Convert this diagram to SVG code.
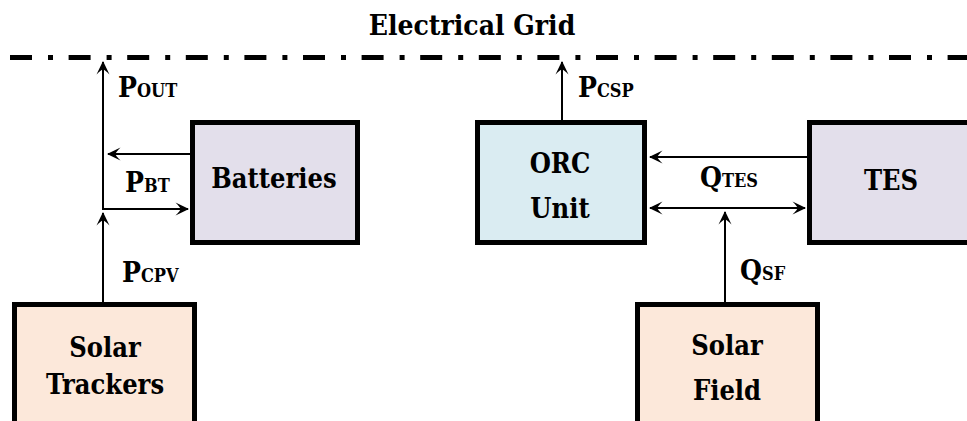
<svg xmlns="http://www.w3.org/2000/svg" width="967" height="421" viewBox="0 0 967 421">
<style>
.box{stroke:#000;stroke-width:5}
.lav{fill:#e3dfeb}
.blue{fill:#daecf2}
.peach{fill:#fce8da}
text{font-family:"DejaVu Serif Condensed","DejaVu Serif",serif;font-stretch:condensed;font-weight:700}
.lbl{font-size:27px;text-anchor:middle}
.sym{font-size:28px}
.sub{font-size:18px}
.conn line{stroke:#000;stroke-width:2;fill:none}
</style>
<defs>
<marker id="ah" viewBox="-14 -7 16 14" refX="0" refY="0" markerWidth="16" markerHeight="14" markerUnits="userSpaceOnUse" orient="auto-start-reverse">
<path d="M1,0 L-12.5,-6.5 Q-7.5,-1.5 -7.5,0 Q-7.5,1.5 -12.5,6.5 Z" fill="#000"/>
</marker>
</defs>
<rect width="967" height="421" fill="#fff"/>
<g id="grid">
<text x="472" y="35" style="font-size:28px" text-anchor="middle">Electrical Grid</text>
<line x1="10" y1="57.5" x2="967" y2="57.5" stroke="#000" stroke-width="5" stroke-dasharray="22 16 5 15.6"/>
</g>
<g id="batteries">
<rect class="box lav" x="192.5" y="122.5" width="165" height="120"/>
<text class="lbl" x="274" y="188">Batteries</text>
</g>
<g id="orc">
<rect class="box blue" x="477.5" y="122.5" width="167" height="120"/>
<text class="lbl" x="560" y="173">ORC</text>
<text class="lbl" x="560" y="218">Unit</text>
</g>
<g id="tes">
<rect class="box lav" x="809.5" y="122.5" width="167" height="120"/>
<text class="lbl" x="891" y="190">TES</text>
</g>
<g id="solar-trackers">
<rect class="box peach" x="14.5" y="304.5" width="180" height="140"/>
<text class="lbl" x="105" y="357">Solar</text>
<text class="lbl" x="105" y="394">Trackers</text>
</g>
<g id="solar-field">
<rect class="box peach" x="637.5" y="304.5" width="180" height="140"/>
<text class="lbl" x="727" y="355">Solar</text>
<text class="lbl" x="727" y="400">Field</text>
</g>
<g id="connectors" class="conn">
<line x1="103" y1="302" x2="103" y2="213" marker-end="url(#ah)"/>
<line x1="103" y1="210" x2="103" y2="62" marker-end="url(#ah)"/>
<line x1="102" y1="209" x2="188" y2="209" marker-end="url(#ah)"/>
<line x1="190" y1="154" x2="108" y2="154" marker-end="url(#ah)"/>
<line x1="562" y1="120" x2="562" y2="62" marker-end="url(#ah)"/>
<line x1="807" y1="157" x2="650" y2="157" marker-end="url(#ah)"/>
<line x1="650" y1="208" x2="805" y2="208" marker-start="url(#ah)" marker-end="url(#ah)"/>
<line x1="725" y1="302" x2="725" y2="212" marker-end="url(#ah)"/>
</g>
<g id="labels">
<text class="sym" x="118" y="97">P<tspan class="sub">OUT</tspan></text>
<text class="sym" x="125" y="192">P<tspan class="sub">BT</tspan></text>
<text class="sym" x="122" y="282">P<tspan class="sub">CPV</tspan></text>
<text class="sym" x="578" y="97">P<tspan class="sub">CSP</tspan></text>
<text class="sym" x="700" y="187">Q<tspan class="sub">TES</tspan></text>
<text class="sym" x="740" y="280">Q<tspan class="sub">SF</tspan></text>
</g>
</svg>
